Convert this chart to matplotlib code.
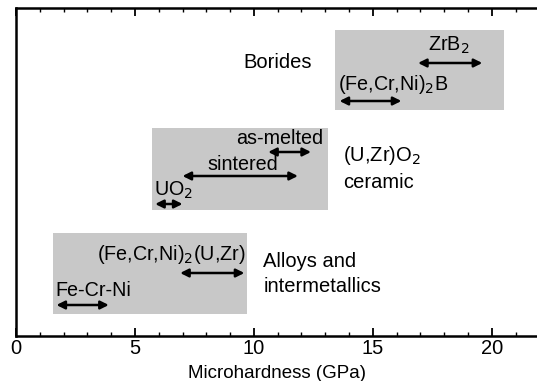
import matplotlib
matplotlib.use("Agg")
import matplotlib.pyplot as plt
from matplotlib.patches import Rectangle
from matplotlib.ticker import MultipleLocator

plt.rcParams['font.family'] = ['Liberation Sans', 'DejaVu Sans']

# Material classes: hardness span of each shaded band (GPa)
groups = ["Borides", "(U,Zr)O$_2$\nceramic", "Alloys and\nintermetallics"]
group_lo = [13.4, 5.7, 1.55]
group_hi = [20.5, 13.1, 9.7]

# Individual phases: hardness ranges (GPa)
phases = ["ZrB$_2$", "(Fe,Cr,Ni)$_2$B", "as-melted", "sintered", "UO$_2$",
          "(Fe,Cr,Ni)$_2$(U,Zr)", "Fe-Cr-Ni"]
phase_lo = [16.9, 13.6, 10.6, 7.0, 5.85, 6.9, 1.7]
phase_hi = [19.6, 16.2, 12.4, 11.85, 7.0, 9.6, 3.9]

# vertical layout (axis runs 0..328 from bottom to top)
band_y = [(226, 306), (126, 208), (22, 103)]
group_txt = [(11.0, 273, 'center'), (13.75, 168, 'left'), (10.4, 62, 'left')]
arrow_y = [273, 235, 184, 160, 132, 63, 31]
phase_txt = [(18.2, 291, 'center'), (13.55, 252, 'left'), (11.1, 198, 'center'),
             (9.55, 171, 'center'), (5.8, 146, 'left'), (9.65, 81, 'right'),
             (1.65, 46, 'left')]

fig = plt.figure(figsize=(5.37, 3.81), dpi=100)
ax = fig.add_axes([16 / 537, 45 / 381, 1 - 16 / 537, 328 / 381])
ax.set_xlim(0, 21.9)
ax.set_ylim(0, 328)

for (y0, y1), lo, hi in zip(band_y, group_lo, group_hi):
    ax.add_patch(Rectangle((lo, y0), hi - lo, y1 - y0, facecolor='#c8c8c8',
                           edgecolor='none', zorder=0))

for name, (x, y, ha) in zip(groups, group_txt):
    ax.text(x, y, name, ha=ha, va='center', fontsize=14.5, linespacing=1.4)

for name, lo, hi, y, (tx, ty, ha) in zip(phases, phase_lo, phase_hi,
                                          arrow_y, phase_txt):
    ax.annotate('', xy=(hi, y), xytext=(lo, y),
                arrowprops=dict(arrowstyle='<|-|>', color='black', lw=1.8,
                                mutation_scale=12, shrinkA=0, shrinkB=0))
    ax.text(tx, ty, name, ha=ha, va='center', fontsize=14.2)

ax.spines['right'].set_visible(False)
for s in ['left', 'bottom', 'top']:
    ax.spines[s].set_linewidth(1.8)
ax.set_yticks([])
ax.xaxis.set_major_locator(MultipleLocator(5))
ax.xaxis.set_minor_locator(MultipleLocator(1))
ax.tick_params(axis='x', which='major', direction='in', length=6, width=1.3,
               top=True, labelsize=14.5, pad=2)
ax.tick_params(axis='x', which='minor', direction='in', length=3, width=1,
               top=True)
ax.set_xlabel("Microhardness (GPa)", fontsize=13.5, labelpad=5)

fig.savefig("out.png", dpi=100)
